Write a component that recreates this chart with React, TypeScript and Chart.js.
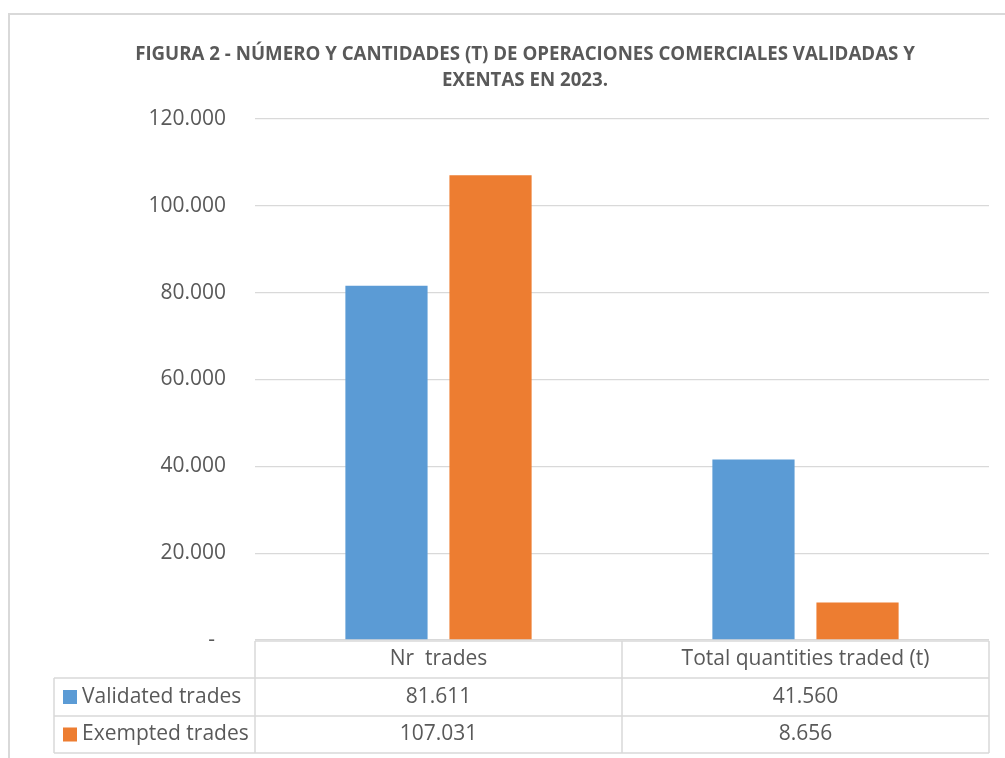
import React, { useEffect, useRef } from "react";
import { Chart, registerables } from "chart.js";

Chart.register(...registerables);

const categories = ["Nr  trades", "Total quantities traded (t)"];
const seriesNames = ["Validated trades", "Exempted trades"];
const validatedValues = [81611, 41560];
const exemptedValues = [107031, 8656];
const seriesColors = ["#5B9BD5", "#ED7D31"];
const yTicks = [0, 20000, 40000, 60000, 80000, 100000, 120000];
const titleLines = [
  "FIGURA 2 - NÚMERO Y CANTIDADES (T) DE OPERACIONES COMERCIALES VALIDADAS Y",
  "EXENTAS EN 2023.",
];

const TEXT = "#595959";
const LINE = "#d9d9d9";
const FONT = '"Open Sans", sans-serif';

function fmt(v: number): string {
  return String(Math.round(v)).replace(/\B(?=(\d{3})+(?!\d))/g, ".");
}

const framePlugin = {
  id: "frame",
  beforeDraw(chart: any) {
    const { ctx, width, height } = chart;
    ctx.save();
    ctx.fillStyle = "#ffffff";
    ctx.fillRect(0, 0, width, height);
    ctx.strokeStyle = LINE;
    ctx.lineWidth = 2;
    ctx.beginPath();
    ctx.moveTo(9, height);
    ctx.lineTo(9, 14);
    ctx.lineTo(width, 14);
    ctx.stroke();
    ctx.restore();
  },
};

const tablePlugin = {
  id: "dataTable",
  afterDraw(chart: any) {
    const { ctx, chartArea } = chart;
    const x = chart.scales.x;
    const top = chartArea.bottom + 1;
    const rowTops = [top, top + 37, top + 75, top + 112];
    const half = (x.getPixelForValue(1) - x.getPixelForValue(0)) / 2;
    const colEdges = [
      x.getPixelForValue(0) - half,
      x.getPixelForValue(0) + half,
      x.getPixelForValue(1) + half,
    ];
    const legendLeft = 54;
    ctx.save();
    ctx.strokeStyle = LINE;
    ctx.lineWidth = 1.5;
    ctx.beginPath();
    ctx.moveTo(colEdges[0], rowTops[0]);
    ctx.lineTo(colEdges[2], rowTops[0]);
    for (let i = 1; i < 4; i++) {
      ctx.moveTo(legendLeft, rowTops[i]);
      ctx.lineTo(colEdges[2], rowTops[i]);
    }
    colEdges.forEach((cx) => {
      ctx.moveTo(cx, rowTops[0]);
      ctx.lineTo(cx, rowTops[3]);
    });
    ctx.moveTo(legendLeft, rowTops[1]);
    ctx.lineTo(legendLeft, rowTops[3]);
    ctx.stroke();

    ctx.fillStyle = TEXT;
    ctx.font = `21px ${FONT}`;
    ctx.textBaseline = "middle";
    ctx.textAlign = "center";
    categories.forEach((c, i) => {
      ctx.fillText(c, x.getPixelForValue(i), (rowTops[0] + rowTops[1]) / 2);
    });
    const rows = [validatedValues, exemptedValues];
    rows.forEach((vals, r) => {
      const cy = (rowTops[r + 1] + rowTops[r + 2]) / 2;
      vals.forEach((v, i) => {
        ctx.textAlign = "center";
        ctx.fillStyle = TEXT;
        ctx.fillText(fmt(v), x.getPixelForValue(i), cy);
      });
      ctx.fillStyle = seriesColors[r];
      ctx.fillRect(63, cy - 7, 14, 14);
      ctx.fillStyle = TEXT;
      ctx.textAlign = "left";
      ctx.fillText(seriesNames[r], 82, cy);
    });
    ctx.restore();
  },
};

export default function App() {
  const ref = useRef<HTMLCanvasElement | null>(null);

  useEffect(() => {
    if (!ref.current) return;
    const chart = new Chart(ref.current, {
      type: "bar",
      data: {
        labels: categories,
        datasets: [
          {
            label: seriesNames[0],
            data: validatedValues,
            backgroundColor: seriesColors[0],
            categoryPercentage: 0.567,
            barPercentage: 0.79,
          },
          {
            label: seriesNames[1],
            data: exemptedValues,
            backgroundColor: seriesColors[1],
            categoryPercentage: 0.567,
            barPercentage: 0.79,
          },
        ],
      },
      options: {
        responsive: false,
        animation: false,
        devicePixelRatio: 1,
        layout: { padding: { left: 61, right: 16, top: 0, bottom: 118 } },
        plugins: {
          legend: { display: false },
          tooltip: { enabled: false },
          title: {
            display: true,
            text: titleLines,
            color: TEXT,
            font: { family: FONT, size: 18.7, weight: "bold", lineHeight: 1.39 },
            padding: { top: 42, bottom: 25 },
          },
        },
        scales: {
          x: {
            display: false,
          },
          y: {
            min: 0,
            max: 120000,
            afterBuildTicks: (s: any) => {
              s.ticks = yTicks.map((v) => ({ value: v }));
            },
            afterFit: (s: any) => {
              s.width = 194;
            },
            border: { display: false },
            grid: { color: LINE, lineWidth: 1.3, drawTicks: false },
            ticks: {
              padding: 29,
              color: TEXT,
              font: { family: FONT, size: 21 },
              callback: (v: any) => (Number(v) === 0 ? "-  " : fmt(Number(v))),
            },
          },
        },
      },
      plugins: [framePlugin, tablePlugin],
    });
    if ((document as any).fonts && (document as any).fonts.load) {
      Promise.all([
        (document as any).fonts.load(`21px ${FONT}`),
        (document as any).fonts.load(`bold 18.7px ${FONT}`),
      ]).then(() => chart.update());
    }
    return () => chart.destroy();
  }, []);

  return (
    <div style={{ position: "absolute", left: 0, top: 0, width: 1005, height: 758 }}>
      <canvas ref={ref} width={1005} height={758} style={{ width: 1005, height: 758, display: "block" }} />
    </div>
  );
}
